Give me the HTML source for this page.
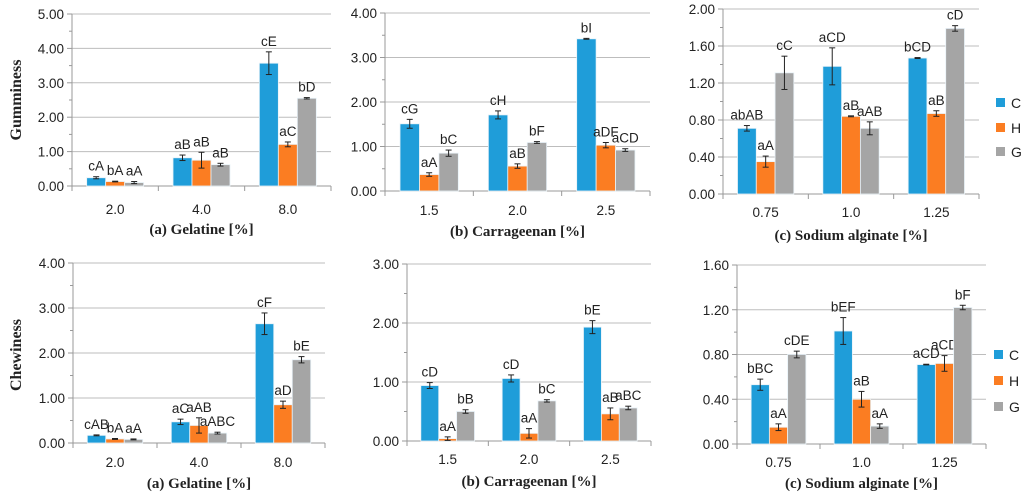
<!DOCTYPE html>
<html><head><meta charset="utf-8"><style>
html,body{margin:0;padding:0;background:#fff;}
svg{display:block;}
text{font-family:"Liberation Sans",sans-serif;fill:#222;}
.ttl{font-family:"Liberation Serif",serif;font-weight:bold;font-size:15px;}
.yt{font-family:"Liberation Serif",serif;font-weight:bold;font-size:16px;}
</style></head><body>
<svg id="chart" width="1024" height="494" viewBox="0 0 1024 494" xmlns="http://www.w3.org/2000/svg"></svg>
<script>
const seriesNames = ['C','H','G'];
const colors = ['#1f9dd9','#fb7d22','#a5a5a5'];
const catsA = ['2.0','4.0','8.0'];
const catsB = ['1.5','2.0','2.5'];
const catsC = ['0.75','1.0','1.25'];
// Gumminess
const gaC=[0.24,0.82,3.57], gaH=[0.13,0.75,1.21], gaG=[0.10,0.62,2.55];
const gaEC=[0.03,0.08,0.33], gaEH=[0.01,0.23,0.07], gaEG=[0.03,0.04,0.02];
const gaL=[['cA','aB','cE'],['bA','aB','aC'],['aA','aB','bD']];
const gbC=[1.51,1.71,3.42], gbH=[0.37,0.56,1.03], gbG=[0.85,1.09,0.92];
const gbEC=[0.10,0.09,0.01], gbEH=[0.04,0.05,0.06], gbEG=[0.07,0.02,0.03];
const gbL=[['cG','cH','bI'],['aA','aB','aDF'],['bC','bF','aCD']];
const gcC=[0.71,1.38,1.47], gcH=[0.35,0.84,0.87], gcG=[1.31,0.71,1.79];
const gcEC=[0.03,0.20,0.005], gcEH=[0.06,0.005,0.03], gcEG=[0.18,0.07,0.03];
const gcL=[['abAB','aCD','bCD'],['aA','aB','aB'],['cC','aAB','cD']];
// Chewiness
const caC=[0.17,0.47,2.65], caH=[0.09,0.39,0.85], caG=[0.08,0.22,1.85];
const caEC=[0.01,0.06,0.24], caEH=[0.01,0.17,0.08], caEG=[0.01,0.02,0.07];
const caL=[['cAB','aC','cF'],['bA','aAB','aD'],['aA','aABC','bE']];
const cbC=[0.94,1.06,1.93], cbH=[0.04,0.13,0.46], cbG=[0.50,0.68,0.56];
const cbEC=[0.05,0.06,0.11], cbEH=[0.03,0.08,0.10], cbEG=[0.03,0.02,0.03];
const cbL=[['cD','cD','bE'],['aA','aA','aB'],['bB','bC','aBC']];
const ccC=[0.53,1.01,0.71], ccH=[0.15,0.40,0.72], ccG=[0.80,0.16,1.22];
const ccEC=[0.05,0.12,0.003], ccEH=[0.03,0.07,0.07], ccEG=[0.03,0.02,0.02];
const ccL=[['bBC','bEF','aCD'],['aA','aB','aCD'],['cDE','aA','bF']];
const ticksGA=['0.00','1.00','2.00','3.00','4.00','5.00'];
const ticksGB=['0.00','1.00','2.00','3.00','4.00'];
const ticksGC=['0.00','0.40','0.80','1.20','1.60','2.00'];
const ticksCA=['0.00','1.00','2.00','3.00','4.00'];
const ticksCB=['0.00','1.00','2.00','3.00'];
const ticksCC=['0.00','0.40','0.80','1.20','1.60'];

const svg=document.getElementById('chart');
const NS='http://www.w3.org/2000/svg';
function mk(tag,attrs,parent){const e=document.createElementNS(NS,tag);for(const k in attrs)e.setAttribute(k,attrs[k]);(parent||svg).appendChild(e);return e;}

function panel(id,p,cats,vals,errs,labs,ticks,title,tickY,titleY){
  const g=mk('g',{});
  
  
  const max=parseFloat(ticks[ticks.length-1]);
  const y=v=>p.y0-(v/max)*(p.y0-p.yt);
  const n=ticks.length-1;
  for(let i=0;i<=n;i++){
    const v=parseFloat(ticks[i]);
    if(i>0){const gl=mk('line',{x1:p.x0,x2:p.x1,y1:y(v),y2:y(v),stroke:'#bdbdbd','stroke-width':1},g);
      }
    mk('line',{x1:p.x0-5,x2:p.x0,y1:y(v),y2:y(v),stroke:'#999'},g);
    if(i<n) mk('line',{x1:p.x0-3,x2:p.x0,y1:y(v+max/n/2),y2:y(v+max/n/2),stroke:'#999'},g);
    const t=mk('text',{x:p.x0-8,y:y(v)+5,'text-anchor':'end','font-size':13.5},g);
    t.textContent=ticks[i];
    
  }
  mk('line',{x1:p.x0,x2:p.x0,y1:p.yt,y2:p.y0,stroke:'#999'},g);
  mk('line',{x1:p.x0,x2:p.x1,y1:p.y0,y2:p.y0,stroke:'#999'},g);
  const cw=(p.x1-p.x0)/cats.length, bw=cw*0.22;
  for(let c=0;c<=cats.length;c++) mk('line',{x1:p.x0+c*cw,x2:p.x0+c*cw,y1:p.y0,y2:p.y0+5,stroke:'#999'},g);
  cats.forEach((cat,ci)=>{
    const cx=p.x0+cw*(ci+0.5);
    const t=mk('text',{x:cx,y:tickY,'text-anchor':'middle','font-size':13.5},g);
    t.textContent=cat;
    
    for(let s=0;s<3;s++){
      const v=vals[s][ci], e=errs[s][ci];
      const bx=cx-1.5*bw+s*bw;
      const r=mk('rect',{x:bx,y:y(v),width:bw,height:p.y0-y(v),fill:colors[s],stroke:'#e8f2f8','stroke-width':0.8},g);
      
      
      const m=bx+bw/2;
      mk('line',{x1:m,x2:m,y1:y(v+e),y2:y(v-e),stroke:'#222','stroke-width':1},g);
      mk('line',{x1:m-3,x2:m+3,y1:y(v+e),y2:y(v+e),stroke:'#222','stroke-width':1},g);
      mk('line',{x1:m-3,x2:m+3,y1:y(v-e),y2:y(v-e),stroke:'#222','stroke-width':1},g);
      const l=mk('text',{x:m,y:y(v+e)-6,'text-anchor':'middle','font-size':13.5},g);
      l.textContent=labs[s][ci];
      
    }
  });
  const tt=mk('text',{x:(p.x0+p.x1)/2,y:titleY,'text-anchor':'middle',class:'ttl'},g);
  tt.textContent=title;
  
}
panel('gumminess-gelatine',{x0:72,x1:331,yt:14,y0:186},catsA,[gaC,gaH,gaG],[gaEC,gaEH,gaEG],gaL,ticksGA,'(a)  Gelatine [%]',214,234);
panel('gumminess-carrageenan',{x0:385,x1:650,yt:13,y0:191},catsB,[gbC,gbH,gbG],[gbEC,gbEH,gbEG],gbL,ticksGB,'(b)  Carrageenan [%]',215,236);
panel('gumminess-alginate',{x0:723,x1:979,yt:9,y0:194},catsC,[gcC,gcH,gcG],[gcEC,gcEH,gcEG],gcL,ticksGC,'(c)   Sodium alginate [%]',217,240);
panel('chewiness-gelatine',{x0:73,x1:325,yt:263,y0:443},catsA,[caC,caH,caG],[caEC,caEH,caEG],caL,ticksCA,'(a)  Gelatine [%]',467,488);
panel('chewiness-carrageenan',{x0:407,x1:651,yt:264,y0:441},catsB,[cbC,cbH,cbG],[cbEC,cbEH,cbEG],cbL,ticksCB,'(b)   Carrageenan [%]',464,486);
panel('chewiness-alginate',{x0:737,x1:986,yt:265,y0:444},catsC,[ccC,ccH,ccG],[ccEC,ccEH,ccEG],ccL,ticksCC,'(c)   Sodium alginate [%]',467,488);

function ytitle(txt,cy){
  const t=mk('text',{x:0,y:0,transform:'translate(21,'+cy+') rotate(-90)','text-anchor':'middle',class:'yt'});
  t.textContent=txt;
  
}
ytitle('Gumminess',100);ytitle('Chewiness',355);
function legend(x,ys){
  ys.forEach((yy,i)=>{
    const r=mk('rect',{x:x,y:yy-5,width:9,height:9,fill:colors[i]});
    
    const t=mk('text',{x:x+15,y:yy+5,'font-size':14});
    t.textContent=seriesNames[i];
    
  });
}
legend(996,[103,128,152]);legend(994,[355,381,407]);
</script>
</body></html>
